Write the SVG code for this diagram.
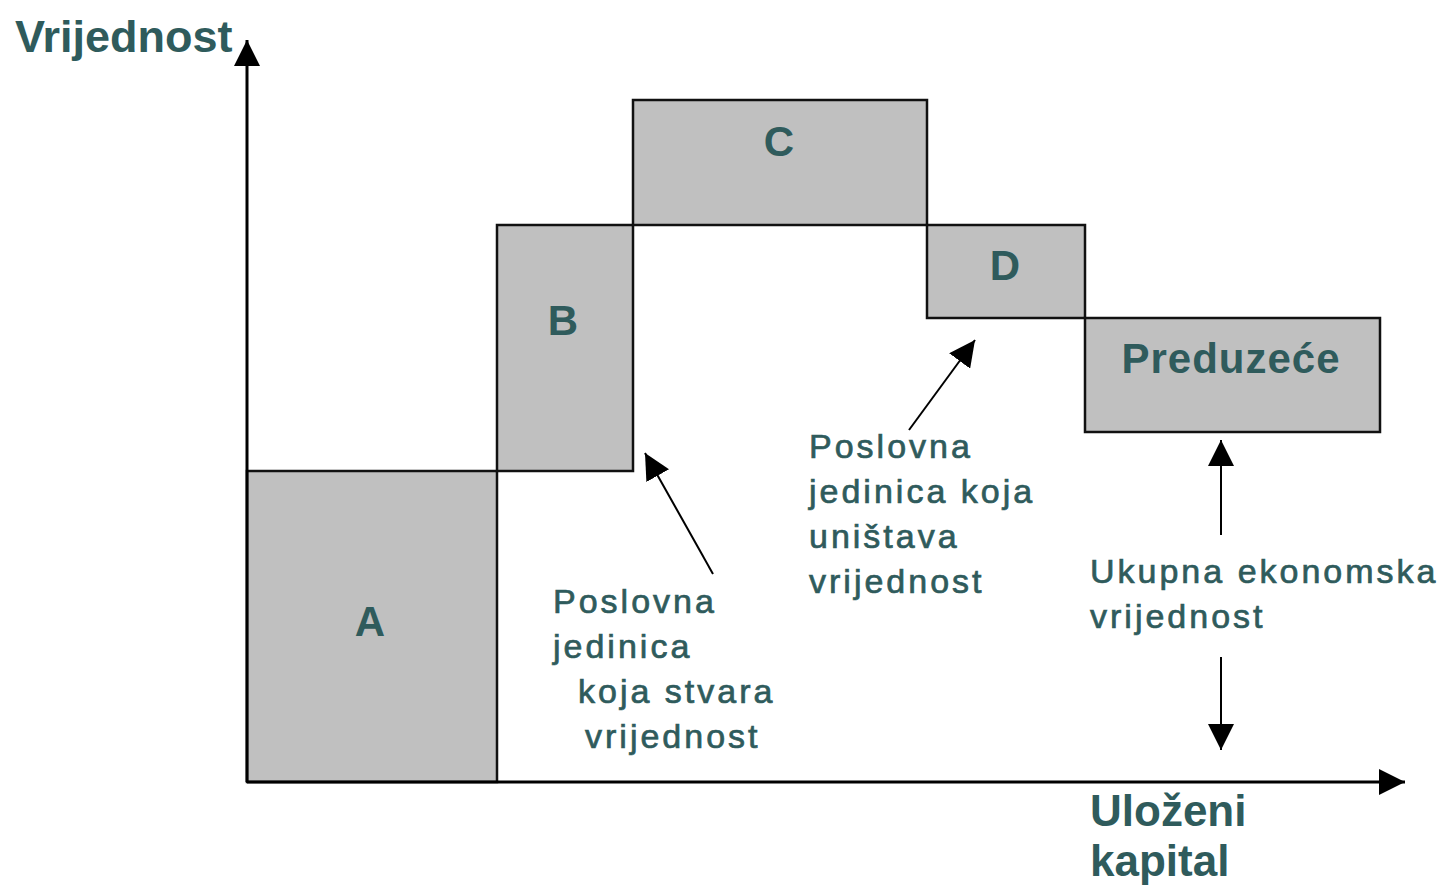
<svg xmlns="http://www.w3.org/2000/svg" width="1445" height="886" viewBox="0 0 1445 886">
<style>
.box{fill:#c0c0c0;stroke:#111;stroke-width:2.5}
.lbl{font-family:"Liberation Sans",Arial,sans-serif;font-weight:bold;fill:#2f5b5c}
.ann{font-family:"Liberation Sans",Arial,sans-serif;font-size:34px;letter-spacing:3px;fill:#2f5b5c;stroke:#2f5b5c;stroke-width:0.7}
.ax{stroke:#000;stroke-width:3;fill:none}
.ar{stroke:#000;stroke-width:2;fill:none}
</style>
<defs>
<marker id="ahb" viewBox="0 0 10 10" refX="10" refY="5" markerWidth="26" markerHeight="26" markerUnits="userSpaceOnUse" orient="auto"><path d="M0,0L10,5L0,10z" fill="#000"/></marker>
</defs>
<rect width="1445" height="886" fill="#fff"/>
<g id="A"><rect class="box" x="247" y="471" width="250" height="311"/><text class="lbl" x="370" y="636" font-size="42" text-anchor="middle">A</text></g>
<g id="B"><rect class="box" x="497" y="225" width="136" height="246"/><text class="lbl" x="563" y="335" font-size="42" text-anchor="middle">B</text></g>
<g id="C"><rect class="box" x="633" y="100" width="294" height="125"/><text class="lbl" x="779" y="156" font-size="42" text-anchor="middle">C</text></g>
<g id="D"><rect class="box" x="927" y="225" width="158" height="93"/><text class="lbl" x="1005" y="280" font-size="42" text-anchor="middle">D</text></g>
<g id="Preduzece"><rect class="box" x="1085" y="318" width="295" height="114"/><text class="lbl" x="1231" y="373" font-size="42" letter-spacing="1" text-anchor="middle">Preduzeće</text></g>
<g id="connectors">
<line class="ax" x1="247" y1="782" x2="247" y2="40" marker-end="url(#ahb)"/>
<line class="ax" x1="247" y1="782" x2="1405" y2="782" marker-end="url(#ahb)"/>
<line class="ar" x1="713" y1="574" x2="645" y2="453" marker-end="url(#ahb)"/>
<line class="ar" x1="909" y1="430" x2="975" y2="340" marker-end="url(#ahb)"/>
<line class="ar" x1="1221" y1="535" x2="1221" y2="440" marker-end="url(#ahb)"/>
<line class="ar" x1="1221" y1="657" x2="1221" y2="750" marker-end="url(#ahb)"/>
</g>
<g id="axis-labels">
<text class="lbl" x="15" y="52" font-size="45">Vrijednost</text>
<text class="lbl" x="1090" y="826" font-size="44">Uloženi</text>
<text class="lbl" x="1090" y="876" font-size="44">kapital</text>
</g>
<g id="ann-stvara">
<text class="ann" x="553" y="613">Poslovna</text>
<text class="ann" x="553" y="658">jedinica</text>
<text class="ann" x="578" y="703">koja stvara</text>
<text class="ann" x="585" y="748">vrijednost</text>
</g>
<g id="ann-unistava">
<text class="ann" x="809" y="458">Poslovna</text>
<text class="ann" x="809" y="503">jedinica koja</text>
<text class="ann" x="809" y="548">uništava</text>
<text class="ann" x="809" y="593">vrijednost</text>
</g>
<g id="ann-ukupna">
<text class="ann" x="1090" y="583">Ukupna ekonomska</text>
<text class="ann" x="1090" y="628">vrijednost</text>
</g>
</svg>
